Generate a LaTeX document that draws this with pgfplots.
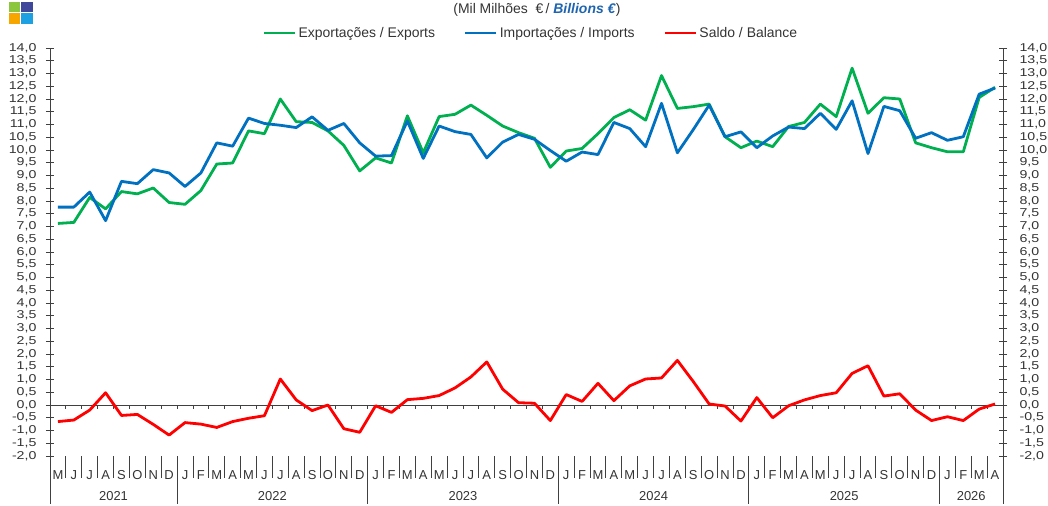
\documentclass[border=0pt]{standalone}
\usepackage{fontspec}
\setmainfont{Liberation Sans}
\newfontfamily\tickfont[FakeStretch=1.25]{Liberation Sans}
\usepackage{pgfplots}
\pgfplotsset{compat=1.18}
\usepackage{pgfplotstable}

\definecolor{expGreen}{RGB}{0,176,80}
\definecolor{impBlue}{RGB}{0,112,192}
\definecolor{balRed}{RGB}{255,0,0}
\definecolor{axisGray}{RGB}{64,64,64}
\definecolor{txtGray}{RGB}{51,51,51}
\definecolor{titleBlue}{RGB}{30,100,175}

% monthly values, May 2021 .. Apr 2026 (idx 0..59)
\pgfplotstableread{
idx exp imp bal
0 7.12 7.76 -0.65
1 7.16 7.76 -0.59
2 8.14 8.35 -0.20
3 7.69 7.23 0.48
4 8.37 8.77 -0.41
5 8.28 8.68 -0.37
6 8.51 9.23 -0.76
7 7.94 9.10 -1.18
8 7.87 8.57 -0.69
9 8.41 9.10 -0.75
10 9.45 10.28 -0.88
11 9.49 10.15 -0.65
12 10.75 11.25 -0.52
13 10.64 11.04 -0.42
14 12.00 10.97 1.02
15 11.11 10.88 0.20
16 11.08 11.30 -0.22
17 10.75 10.77 0.00
18 10.18 11.04 -0.93
19 9.18 10.28 -1.07
20 9.69 9.76 -0.03
21 9.49 9.78 -0.29
22 11.34 11.14 0.21
23 9.89 9.67 0.26
24 11.31 10.94 0.37
25 11.40 10.72 0.67
26 11.76 10.61 1.10
27 11.36 9.69 1.69
28 10.94 10.31 0.62
29 10.68 10.61 0.09
30 10.46 10.42 0.07
31 9.32 9.98 -0.61
32 9.96 9.56 0.41
33 10.06 9.92 0.14
34 10.64 9.82 0.85
35 11.27 11.08 0.17
36 11.58 10.84 0.75
37 11.17 10.13 1.02
38 12.92 11.83 1.06
39 11.63 9.89 1.75
40 11.70 10.80 0.92
41 11.80 11.76 0.04
42 10.52 10.52 -0.04
43 10.09 10.71 -0.63
44 10.35 10.09 0.29
45 10.13 10.55 -0.50
46 10.92 10.90 -0.03
47 11.08 10.84 0.20
48 11.80 11.44 0.37
49 11.31 10.81 0.48
50 13.21 11.93 1.24
51 11.44 9.86 1.54
52 12.05 11.71 0.35
53 12.00 11.54 0.44
54 10.28 10.46 -0.20
55 10.09 10.68 -0.61
56 9.93 10.38 -0.46
57 9.93 10.52 -0.61
58 12.06 12.19 -0.16
59 12.46 12.43 0.04
}\tradedata

\pgfplotsset{
    baseaxis/.style={
        width=953bp, height=408bp,
        scale only axis,
        xmin=-0.5, xmax=59.5,
        ymin=-2, ymax=14,
        ytick={-2,-1.5,...,14},
        yticklabel style={font=\tickfont\fontsize{11.4}{12}\selectfont, text=txtGray,
            /pgf/number format/fixed, /pgf/number format/fixed zerofill,
            /pgf/number format/precision=1, /pgf/number format/use comma,
            /pgf/number format/assume math mode=true},
        ytick style={axisGray, line width=0.9bp},
        tick align=center,
        major tick length=8bp,
    },
}
\tikzset{yearlabel/.style={anchor=base, text=txtGray, font=\fontsize{13}{15}\selectfont, yshift=-44bp}}

\begin{document}
\begin{tikzpicture}
    % right-hand tick labels
    \begin{axis}[
        baseaxis,
        hide x axis,
        y axis line style={draw=none},
        ytick style={draw=none},
        yticklabel pos=right,
        yticklabel style={anchor=west, xshift=9bp},
    ]
    \end{axis}

    \begin{axis}[
        baseaxis,
        clip=false,
        separate axis lines,
        x axis line style={draw=none},
        y axis line style={axisGray, line width=0.9bp},
        ytick pos=both,
        yticklabel pos=left,
        yticklabel style={anchor=east, xshift=-6bp},
        xtick={0,...,59},
        xtick pos=bottom,
        xtick style={draw=none},
        xticklabels={M,J,J,A,S,O,N,D,
            J,F,M,A,M,J,J,A,S,O,N,D,
            J,F,M,A,M,J,J,A,S,O,N,D,
            J,F,M,A,M,J,J,A,S,O,N,D,
            J,F,M,A,M,J,J,A,S,O,N,D,
            J,F,M,A},
        xticklabel style={font=\fontsize{13}{14}\selectfont, text=txtGray, anchor=base, yshift=-19.5bp},
        legend columns=3,
        legend style={at={(0.5047,1.0368)}, anchor=center, draw=none, fill=none,
            font=\fontsize{14}{16}\selectfont, text=txtGray,
            /tikz/every even column/.append style={column sep=27bp}},
        legend cell align=left,
        legend image code/.code={\draw[#1] (0bp,0bp) -- (31bp,0bp);},
    ]
    % zero line with small ticks at month boundaries, separators below the axis
    \draw[axisGray, line width=0.9bp] (axis cs:-0.5,0) -- (axis cs:59.5,0);
    \pgfplotsinvokeforeach{-0.5,0.5,...,59.5}{
        \draw[axisGray, line width=0.9bp] (axis cs:#1,0) -- ([yshift=-4bp]axis cs:#1,0);
        \draw[axisGray, line width=0.9bp] (axis cs:#1,-2) -- ([yshift=-22bp]axis cs:#1,-2);
    }
    \pgfplotsinvokeforeach{-0.5,7.5,19.5,31.5,43.5,55.5,59.5}{
        \draw[axisGray, line width=0.9bp] (axis cs:#1,-2) -- ([yshift=-48bp]axis cs:#1,-2);
    }

    \addplot[expGreen, line width=2.8bp, line join=round] table[x=idx, y=exp] {\tradedata};
    \addplot[impBlue, line width=2.8bp, line join=round] table[x=idx, y=imp] {\tradedata};
    \addplot[balRed, line width=2.8bp, line join=round] table[x=idx, y=bal] {\tradedata};
    \legend{Exportações / Exports, Importações / Imports, Saldo / Balance}

    % years
    \node[yearlabel] at (axis cs:3.5,-2) {2021};
    \node[yearlabel] at (axis cs:13.5,-2) {2022};
    \node[yearlabel] at (axis cs:25.5,-2) {2023};
    \node[yearlabel] at (axis cs:37.5,-2) {2024};
    \node[yearlabel] at (axis cs:49.5,-2) {2025};
    \node[yearlabel] at (axis cs:57.5,-2) {2026};
    % unit note
    \node[text=txtGray, font=\fontsize{14}{16}\selectfont] at (axis description cs:0.511,1.0931)
        {(Mil Milhões\ \ €\,/ \textcolor{titleBlue}{\textbf{\textit{Billions €}}})};
    \end{axis}

    % logo
    \fill[fill={rgb,255:red,140;green,198;blue,63}] (-41bp,443.5bp) rectangle (-29.5bp,454bp);
    \fill[fill={rgb,255:red,63;green,72;blue,155}] (-28.5bp,443.5bp) rectangle (-17bp,454bp);
    \fill[fill={rgb,255:red,247;green,166;blue,0}] (-41bp,432bp) rectangle (-29.5bp,442.5bp);
    \fill[fill={rgb,255:red,29;green,161;blue,226}] (-28.5bp,432bp) rectangle (-17bp,442.5bp);

    \pgfresetboundingbox
    \useasboundingbox (-50bp,-50bp) rectangle (998bp,456bp);
\end{tikzpicture}
\end{document}
